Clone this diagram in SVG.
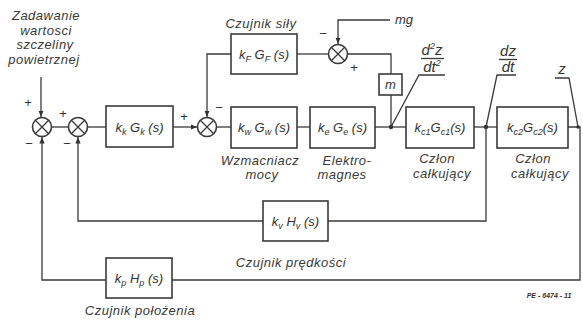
<svg xmlns="http://www.w3.org/2000/svg" width="583" height="323" viewBox="0 0 583 323">
<defs>
<style>
.w{fill:none;stroke:#3a3a3a;stroke-width:1.3}
.b{fill:#fff;stroke:#3a3a3a;stroke-width:1.6}
.t{font-family:"Liberation Sans",Arial,sans-serif;font-style:italic;fill:#333;font-size:13px}
.f{font-family:"Liberation Sans",Arial,sans-serif;font-style:italic;fill:#333;font-size:15px;text-anchor:middle}
.l{font-family:"Liberation Sans",Arial,sans-serif;font-style:italic;fill:#3a3a3a;font-size:13px;letter-spacing:0.5px;text-anchor:middle}
.s{font-family:"Liberation Sans",Arial,sans-serif;fill:#333;font-size:13px;text-anchor:middle}
.sub{font-size:9px}
.dot{fill:#333}
</style>
<marker id="ar" viewBox="0 0 10 10" refX="10" refY="5" markerWidth="5" markerHeight="5" orient="auto">
<path d="M0,1 L10,5 L0,9 z" fill="#333"/>
</marker>
<g id="sumj">
<circle r="9.5" fill="#fff" stroke="#3a3a3a" stroke-width="1.6"/>
<path d="M-6.7,-6.7 L6.7,6.7 M-6.7,6.7 L6.7,-6.7" stroke="#3a3a3a" stroke-width="1.3"/>
</g>
</defs>
<rect width="583" height="323" fill="#fff"/>

<g id="connectors">
<path class="w" d="M41,77 V117" marker-end="url(#ar)"/>
<path class="w" d="M51.5,127 H68.5"/>
<path class="w" d="M87.5,127 H106"/>
<path class="w" d="M173,127 H197" marker-end="url(#ar)"/>
<path class="w" d="M216.5,127 H231"/>
<path class="w" d="M297,127 H310"/>
<path class="w" d="M375,127 H406"/>
<path class="w" d="M474,127 H497"/>
<path class="w" d="M568,127 H580 V280 H172"/>
<path class="w" d="M106,280 H42 V137" marker-end="url(#ar)"/>
<path class="w" d="M486,127 V221 H328"/>
<path class="w" d="M263,221 H78 V137" marker-end="url(#ar)"/>
<path class="w" d="M391,127 V95"/>
<path class="w" d="M391,74 V54 H347.5"/>
<path class="w" d="M328.5,54 H297"/>
<path class="w" d="M231,54 H207 V117" marker-end="url(#ar)"/>
<path class="w" d="M390,20 H338 V44" marker-end="url(#ar)"/>
<path class="w" d="M445,75 H419 L391,127"/>
<path class="w" d="M516,75 H497 L486,127"/>
<path class="w" d="M555,78 H569 L578,127"/>
<circle class="dot" cx="391" cy="127" r="2.2"/>
<circle class="dot" cx="486" cy="127" r="2.2"/>
<circle class="dot" cx="578" cy="127" r="1.8"/>
</g>

<g id="J1"><use href="#sumj" x="42" y="127"/>
<text class="s" x="28" y="107">+</text><text class="s" x="29" y="148">−</text></g>
<g id="J2"><use href="#sumj" x="78" y="127"/>
<text class="s" x="63" y="118">+</text><text class="s" x="67" y="148">−</text></g>
<g id="J3"><use href="#sumj" x="207" y="127"/>
<text class="s" x="184" y="121">+</text><text class="s" x="219" y="112">−</text></g>
<g id="J4"><use href="#sumj" x="338" y="54"/>
<text class="s" x="323" y="38">−</text><text class="s" x="354" y="72">+</text></g>

<g id="setpoint">
<text class="l" x="46" y="20">Zadawanie</text>
<text class="l" x="46" y="35">wartosci</text>
<text class="l" x="45" y="49">szczeliny</text>
<text class="l" x="44" y="64">powietrznej</text>
</g>

<g id="kk"><rect class="b" x="106" y="106" width="67" height="41"/>
<text class="t" x="139.5" y="132" text-anchor="middle">k<tspan class="sub" dy="3">k</tspan><tspan dy="-3"> G</tspan><tspan class="sub" dy="3">k</tspan><tspan dy="-3"> (s)</tspan></text></g>

<g id="kF"><rect class="b" x="231" y="34" width="66" height="40"/>
<text class="t" x="264" y="59" text-anchor="middle">k<tspan class="sub" dy="3">F</tspan><tspan dy="-3"> G</tspan><tspan class="sub" dy="3">F</tspan><tspan dy="-3"> (s)</tspan></text>
<text class="l" x="261" y="28">Czujnik siły</text></g>

<g id="kw"><rect class="b" x="231" y="107" width="66" height="41"/>
<text class="t" x="264" y="132" text-anchor="middle">k<tspan class="sub" dy="3">w</tspan><tspan dy="-3"> G</tspan><tspan class="sub" dy="3">w</tspan><tspan dy="-3"> (s)</tspan></text>
<text class="l" x="260" y="165">Wzmacniacz</text>
<text class="l" x="262" y="179">mocy</text></g>

<g id="ke"><rect class="b" x="310" y="107" width="65" height="41"/>
<text class="t" x="342.5" y="132" text-anchor="middle">k<tspan class="sub" dy="3">e</tspan><tspan dy="-3"> G</tspan><tspan class="sub" dy="3">e</tspan><tspan dy="-3"> (s)</tspan></text>
<text class="l" x="347" y="165">Elektro-</text>
<text class="l" x="342" y="179">magnes</text></g>

<g id="m"><rect class="b" x="379" y="74" width="23" height="21"/>
<text class="t" x="390.5" y="89" text-anchor="middle">m</text></g>

<g id="mg"><text class="t" x="395" y="24" font-size="14">mg</text></g>

<g id="kc1"><rect class="b" x="406" y="107" width="68" height="41"/>
<text class="t" x="440" y="132" text-anchor="middle">k<tspan class="sub" dy="3">c1</tspan><tspan dy="-3">G</tspan><tspan class="sub" dy="3">c1</tspan><tspan dy="-3">(s)</tspan></text>
<text class="l" x="437" y="163">Człon</text>
<text class="l" x="442" y="178">całkujący</text></g>

<g id="kc2"><rect class="b" x="497" y="107" width="71" height="41"/>
<text class="t" x="532.5" y="132" text-anchor="middle">k<tspan class="sub" dy="3">c2</tspan><tspan dy="-3">G</tspan><tspan class="sub" dy="3">c2</tspan><tspan dy="-3">(s)</tspan></text>
<text class="l" x="533" y="163">Człon</text>
<text class="l" x="540" y="178">całkujący</text></g>

<g id="kv"><rect class="b" x="263" y="201" width="65" height="40"/>
<text class="t" x="295.5" y="226" text-anchor="middle">k<tspan class="sub" dy="3">v</tspan><tspan dy="-3"> H</tspan><tspan class="sub" dy="3">v</tspan><tspan dy="-3"> (s)</tspan></text>
<text class="l" x="291" y="267">Czujnik prędkości</text></g>

<g id="kp"><rect class="b" x="106" y="258" width="66" height="40"/>
<text class="t" x="139" y="283" text-anchor="middle">k<tspan class="sub" dy="3">p</tspan><tspan dy="-3"> H</tspan><tspan class="sub" dy="3">p</tspan><tspan dy="-3"> (s)</tspan></text>
<text class="l" x="140" y="315">Czujnik położenia</text></g>

<g id="labels">
<text class="f" x="432" y="55">d<tspan font-size="9" dy="-6">2</tspan><tspan dy="6">z</tspan></text>
<path class="w" d="M421,58.5 H444"/>
<text class="f" x="432" y="72">dt<tspan font-size="9" dy="-6">2</tspan></text>
<text class="f" x="508" y="56">dz</text>
<path class="w" d="M499,59.5 H517"/>
<text class="f" x="508" y="72">dt</text>
<text class="f" x="562" y="74">z</text>
<text x="549" y="298" font-family="Liberation Sans,Arial,sans-serif" font-size="7" font-weight="bold" font-style="italic" fill="#333" text-anchor="middle">PE - 6474 - 11</text>
</g>
</svg>
